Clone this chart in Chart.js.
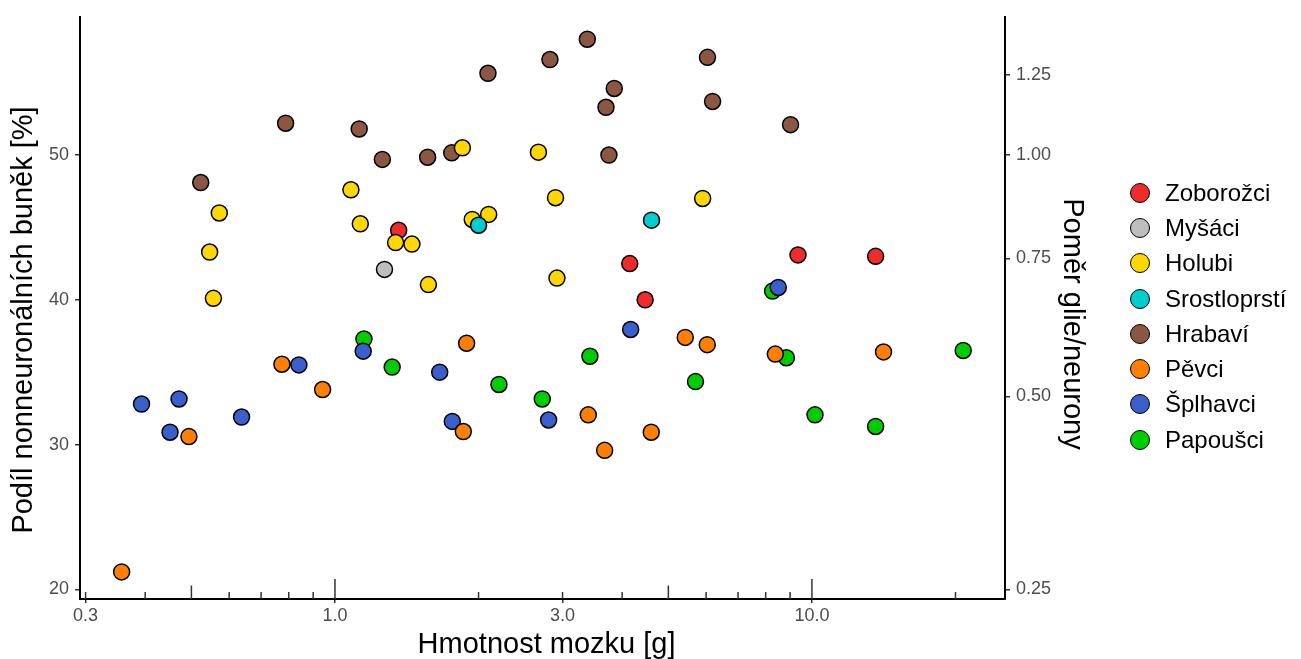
<!DOCTYPE html>
<html lang="cs">
<head>
<meta charset="utf-8">
<title>Podíl nonneuronálních buněk</title>
<script src="https://cdn.jsdelivr.net/npm/chart.js@4.4.1/dist/chart.umd.min.js"></script>
<style>
  html,body{margin:0;padding:0;background:#fff;}
  #wrap{position:relative;width:1301px;height:659px;}
  #legend{position:absolute;left:1130px;top:175px;font-family:"Liberation Sans",Arial,sans-serif;font-size:24px;color:#000;}
  #legend .row{display:flex;align-items:center;height:35.3px;white-space:nowrap;}
  #legend .dot{width:18px;height:18px;border:1.5px solid #000;border-radius:50%;margin-right:15px;}
</style>
</head>
<body>
<div id="wrap"><canvas id="chart"></canvas><div id="legend"></div></div>
<script>
// DATA  [hmotnost mozku (g), podíl nonneuronálních buněk (%)]
const groups = ['Zoborožci','Myšáci','Holubi','Srostloprstí','Hrabaví','Pěvci','Šplhavci','Papoušci'];
const colors = ['#EE2C2C','#BEBEBE','#FFD700','#00CDCD','#8B5742','#FF7F00','#3A5FCD','#00CD00'];
const drawOrder = [2,3,1,0,4,5,6,7]; // lower = drawn on top

const zoborozci = [[1.36,44.8],[4.15,42.5],[4.47,40.0],[9.35,43.1],[13.6,43.0]];
const mysaci = [[1.27,42.1]];
const holubi = [[0.572,46.0],[0.546,43.3],[0.556,40.1],[1.08,47.6],[1.13,45.25],[1.34,43.95],[1.45,43.85],
  [1.57,41.05],[1.85,50.5],[1.94,45.55],[2.10,45.9],[2.67,50.2],[2.90,47.05],[2.92,41.5],[5.90,47.0]];
const srostloprsti = [[2.00,45.15],[4.61,45.5]];
const hrabavi = [[0.523,48.1],[0.788,52.2],[1.124,51.8],[1.257,49.7],[1.564,49.85],[1.757,50.15],[2.093,55.65],
  [2.823,56.6],[3.381,58.0],[3.851,54.6],[3.70,53.3],[3.753,50.0],[6.04,56.75],[6.19,53.7],[9.02,52.1]];
const pevci = [[0.357,21.2],[0.494,30.55],[0.774,35.55],[0.942,33.8],[1.888,37.0],[1.858,30.9],[3.397,32.05],
  [3.676,29.6],[4.604,30.85],[5.425,37.4],[6.033,36.9],[8.38,36.25],[14.13,36.4]];
const splhavci = [[0.393,32.8],[0.451,30.85],[0.471,33.15],[0.637,31.9],[0.840,35.5],[1.146,36.45],[1.658,35.0],
  [1.762,31.6],[2.805,31.7],[4.168,37.95],[8.50,40.85]];
const papousci = [[1.15,37.3],[1.318,35.35],[2.207,34.15],[2.72,33.15],[3.424,36.1],[5.70,34.35],[8.84,36.0],
  [10.15,32.05],[13.6,31.25],[20.76,36.5],[8.27,40.6]];

const xTicks = [0.3,1,3,10];
const yTicks = [20,30,40,50];
const ratioTicks = [0.25,0.5,0.75,1.0,1.25];
const xRange = [0.292,25.4];
const yRange = [19.33,59.55];

const seriesData = [zoborozci,mysaci,holubi,srostloprsti,hrabavi,pevci,splhavci,papousci];

// LEGEND (html)
const legendEl = document.getElementById('legend');
groups.forEach((g,i)=>{
  const row = document.createElement('div');
  row.className = 'row';
  row.innerHTML = '<span class="dot" style="background:'+colors[i]+'"></span><span>'+g+'</span>';
  legendEl.appendChild(row);
});

// log ticks drawn inside the panel along the x axis
const logTicks = {
  id:'logTicks',
  afterDraw(chart){
    const sx = chart.scales.x, ctx = chart.ctx, y0 = chart.chartArea.bottom;
    ctx.save();
    ctx.strokeStyle = '#333';
    ctx.lineWidth = 1.5;
    [0.1,1,10].forEach(d=>{
      for(let k=1;k<=9;k++){
        const v = k*d;
        if(v < xRange[0] || v > xRange[1]) continue;
        const len = k===1 ? 20 : (k===5 ? 13.5 : 7);
        const px = sx.getPixelForValue(v);
        ctx.beginPath();
        ctx.moveTo(px,y0);
        ctx.lineTo(px,y0-len);
        ctx.stroke();
      }
    });
    ctx.restore();
  }
};

Chart.defaults.font.family = '"Liberation Sans", Arial, sans-serif';
const tickFont = {size:18};
const titleFont = {size:29};
const nb = '\u00a0';

new Chart(document.getElementById('chart').getContext('2d'),{
  type:'scatter',
  data:{
    datasets: groups.map((g,i)=>({
      label:g,
      data: seriesData[i].map(p=>({x:p[0],y:p[1]})),
      backgroundColor: colors[i],
      borderColor:'#000',
      borderWidth:1.5,
      pointRadius:8,
      pointHoverRadius:8,
      order: drawOrder[i]
    }))
  },
  options:{
    responsive:true,
    maintainAspectRatio:false,
    animation:false,
    layout:{padding:{top:12,right:206,bottom:0,left:0}},
    plugins:{legend:{display:false},tooltip:{enabled:false}},
    scales:{
      x:{
        type:'logarithmic',
        min:xRange[0], max:xRange[1],
        afterBuildTicks: s=>{ s.ticks = xTicks.map(v=>({value:v})); },
        afterFit: s=>{ s.height = 60; },
        ticks:{autoSkip:false,maxRotation:0,padding:2,color:'#4D4D4D',font:tickFont,
          callback:v=>Number(v).toFixed(1)},
        grid:{drawOnChartArea:false,drawTicks:true,tickLength:4,color:'#333',lineWidth:1.5},
        border:{display:true,color:'#000',width:2},
        title:{display:true,text:nb+'Hmotnost mozku [g]',color:'#000',font:{size:29,lineHeight:1},padding:{top:0,bottom:0}}
      },
      y:{
        type:'linear', position:'left',
        min:yRange[0], max:yRange[1],
        afterBuildTicks: s=>{ s.ticks = yTicks.map(v=>({value:v})); },
        afterFit: s=>{ s.width = 80; },
        ticks:{padding:6,color:'#4D4D4D',font:tickFont},
        grid:{drawOnChartArea:false,drawTicks:true,tickLength:5,color:'#333',lineWidth:1.5},
        border:{display:true,color:'#000',width:2},
        title:{display:true,text:'Podíl nonneuronálních buněk [%]'+nb+nb+nb,color:'#000',font:titleFont,padding:{top:7,bottom:0}}
      },
      y2:{
        type:'linear', position:'right',
        min:yRange[0], max:yRange[1],
        afterBuildTicks: s=>{ s.ticks = ratioTicks.map(r=>({value:r/(1+r)*100})); },
        afterFit: s=>{ s.width = 90; },
        ticks:{padding:6,color:'#4D4D4D',font:tickFont,
          callback:v=>(v/(100-v)).toFixed(2)},
        grid:{drawOnChartArea:false,drawTicks:true,tickLength:5,color:'#333',lineWidth:1.5},
        border:{display:true,color:'#000',width:2},
        title:{display:true,text:nb+nb+nb+nb+'Poměr glie/neurony',color:'#000',font:titleFont,padding:{top:5.6,bottom:0}}
      }
    }
  },
  plugins:[logTicks]
});
</script>
</body>
</html>
